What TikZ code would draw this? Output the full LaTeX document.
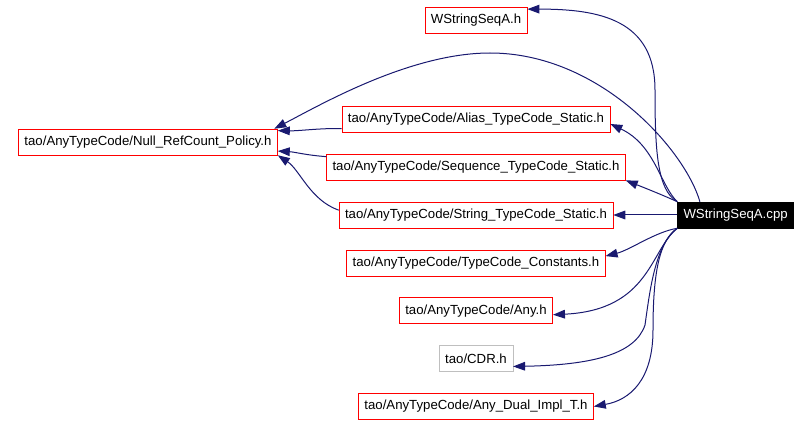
\documentclass[tikz,border=0pt]{standalone}
\usepackage{fontspec}
\setmainfont{Liberation Sans}
\usetikzlibrary{arrows.meta, positioning}
\definecolor{edgeblue}{RGB}{25,25,112}
\definecolor{cdrgray}{RGB}{191,191,191}

\begin{document}
\begin{tikzpicture}[
    x=0.75pt, y=-0.75pt,
    node distance=16pt and 48pt,
    every node/.style={draw=red, rectangle, inner xsep=4.5pt, minimum height=19.5pt,
      font=\fontsize{9.9pt}{11pt}\selectfont},
    dep/.style={draw=edgeblue, line width=0.75pt, -{Triangle[length=9pt, width=6.5pt]}}
    ]
    \useasboundingbox (0,0) rectangle (808,424);

    % Nodes
    \node (string) at (476,215) {tao/AnyTypeCode/String\_TypeCode\_Static.h};
    \node (seq) [above=of string] {tao/AnyTypeCode/Sequence\_TypeCode\_Static.h};
    \node (alias) [above=of seq] {tao/AnyTypeCode/Alias\_TypeCode\_Static.h};
    \node (wsh) [above=54.5pt of alias] {WStringSeqA.h};
    \node (tcc) [below=of string] {tao/AnyTypeCode/TypeCode\_Constants.h};
    \node (any) [below=of tcc] {tao/AnyTypeCode/Any.h};
    \node (cdr) [below=of any, draw=cdrgray] {tao/CDR.h};
    \node (adual) [below=of cdr] {tao/AnyTypeCode/Any\_Dual\_Impl\_T.h};
    \node (null) at (148,142) {tao/AnyTypeCode/Null\_RefCount\_Policy.h};
    \node (cpp) [right=of string, draw=black, fill=black, text=white] {WStringSeqA.cpp};

    % Edges
    \draw[dep] (cpp.north west) .. controls (657,190) and (655,150) .. (655,90)
      .. controls (655,20) and (600,9) .. (wsh.12);
    \draw[dep] ([xshift=17pt]cpp.north west) .. controls (685,150) and (600,53) .. (490,53)
      .. controls (410,53) and (320,105) .. (null.6);
    \draw[dep] (cpp.north west) .. controls (660,185) and (655,145) .. (alias.-2);
    \draw[dep] (cpp.north west) .. controls (665,196) and (645,188) .. (seq.south east);
    \draw[dep] (cpp.west) -- (cpp.west -| string.east);
    \draw[dep] (cpp.south west) .. controls (655,232) and (630,250) .. (tcc.3);
    \draw[dep] (cpp.south west) .. controls (650,250) and (650,310) .. (any.-3);
    \draw[dep] (cpp.south west) .. controls (655,245) and (650,290) .. (645,325)
      .. controls (635,355) and (590,365) .. (cdr.-12);
    \draw[dep] (cpp.south west) .. controls (660,240) and (653,270) .. (653,330)
      .. controls (653,380) and (630,400) .. (adual.east);

    \draw[dep] (alias.184) .. controls (320,128) and (300,131) .. (null.5);
    \draw[dep] (seq.176) .. controls (305,155) and (295,152) .. (null.-4);
    \draw[dep] (string.178) .. controls (310,200) and (300,170) .. (null.south east);

  \end{tikzpicture}
\end{document}
